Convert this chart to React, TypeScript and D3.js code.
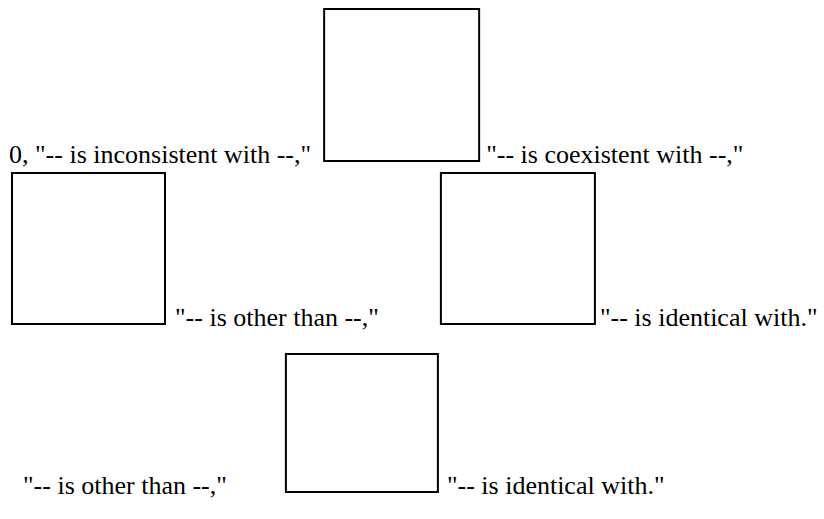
import { useEffect, useRef } from 'react';
import * as d3 from 'd3';

// the phrases, in reading order
const phrases = [
  '0, "-- is inconsistent with --,"',
  '"-- is coexistent with --,"',
  '"-- is other than --,"',
  '"-- is identical with."',
  '"-- is other than --,"',
  '"-- is identical with."',
];

// blank boxes between the phrases (width, height)
const boxWidths = [157, 155, 156, 154];
const boxHeights = [154, 153, 153, 140];

// each line: which phrase / box comes next, in order
const lineItems = [
  ['t0', 'b0', 't1'],
  ['b1', 't2', 'b2', 't3'],
  ['t4', 'b3', 't5'],
];

const FONT = '"Liberation Serif"';

export default function App() {
  const svgRef = useRef<SVGSVGElement | null>(null);

  useEffect(() => {
    if (!svgRef.current) return;
    const width = 824;
    const height = 519;

    const svg = d3
      .select(svgRef.current)
      .attr('width', width)
      .attr('height', height)
      .style('font-family', FONT);
    svg.selectAll('*').remove();

    // line layout: baseline, left start, gaps after each item
    const lines = [
      { baseline: 163, start: 9, gaps: [12, 6] },
      { baseline: 326, start: 11, gaps: [9, 61, 4] },
      { baseline: 494, start: 23, gaps: [58, 8] },
    ];

    lineItems.forEach((row, r) => {
      const line = lines[r];
      let x = line.start;
      row.forEach((code, k) => {
        const kind = code[0];
        const idx = +code.slice(1);
        if (kind === 't') {
          const t = svg
            .append('text')
            .attr('x', x)
            .attr('y', line.baseline)
            .style('font-family', FONT)
            .style('font-size', '26px')
            .text(phrases[idx]);
          x += (t.node() as SVGTextElement).getComputedTextLength();
        } else {
          const w = boxWidths[idx];
          const h = boxHeights[idx];
          svg
            .append('rect')
            .attr('x', x + 1)
            .attr('y', line.baseline - h)
            .attr('width', w - 2)
            .attr('height', h - 2)
            .attr('fill', 'none')
            .attr('stroke', '#000')
            .attr('stroke-width', 2);
          x += w;
        }
        x += line.gaps[k] ?? 0;
      });
    });
  }, []);

  return <svg ref={svgRef} style={{ position: 'absolute', left: 0, top: 0 }} />;
}
